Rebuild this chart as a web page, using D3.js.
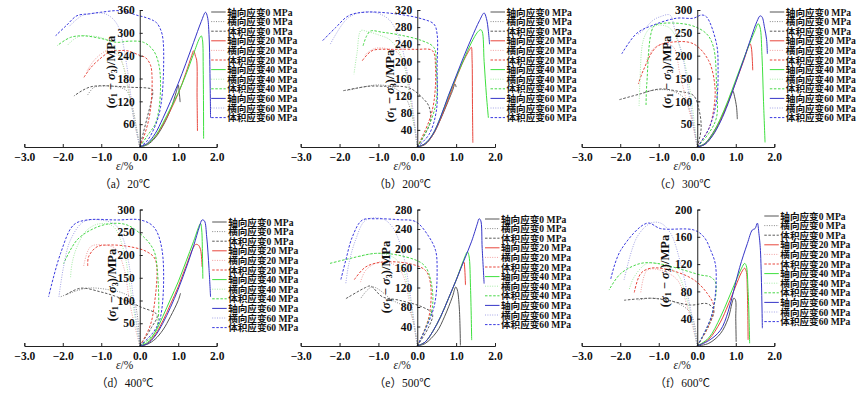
<!DOCTYPE html>
<html><head><meta charset="utf-8">
<script src="https://cdn.jsdelivr.net/npm/d3@7"></script>
<style>
body{margin:0;background:#fff;}
svg{display:block;}
text{font-family:"Liberation Serif","Times New Roman","Noto Sans CJK SC",serif;}
</style></head>
<body>
<svg id="chart" width="857" height="396"></svg>
<script>
// ---------- data ----------
const pressures = ["0", "20", "40", "60"];
const seriesNames = ["轴向应变", "横向应变", "体积应变"];
const captions = ["（a）20℃", "（b）200℃", "（c）300℃", "（d）400℃", "（e）500℃", "（f）600℃"];
const yMaxes = [360, 320, 300, 300, 280, 200];
const yTickSets = [
  [60, 120, 180, 240, 300, 360],
  [40, 80, 120, 160, 200, 240, 280, 320],
  [50, 100, 150, 200, 250, 300],
  [50, 100, 150, 200, 250, 300],
  [40, 80, 120, 160, 200, 240, 280],
  [40, 80, 120, 160, 200]
];
const xTicks = [-3, -2, -1, 0, 1, 2];

// 20 ℃
const axial20 = [
  [[0,0],[0.2,6],[0.4,24],[0.6,55],[0.8,98],[0.95,145],[1.0,163],[1.03,140],[1.05,118]],
  [[0,0],[0.2,8],[0.4,27],[0.6,58],[0.8,97],[1.0,140],[1.2,195],[1.35,240],[1.4,253],[1.45,238],[1.48,228],[1.49,130],[1.5,42]],
  [[0,0],[0.2,8],[0.4,28],[0.6,62],[0.8,102],[1.0,142],[1.2,190],[1.4,245],[1.55,285],[1.6,292],[1.63,282],[1.65,200],[1.66,22]],
  [[0,0],[0.2,10],[0.4,35],[0.6,75],[0.8,120],[1.0,167],[1.2,220],[1.4,275],[1.6,330],[1.71,354],[1.76,342],[1.8,295],[1.83,160],[1.84,77]]
];
const lateral20 = [
  [[0,0],[-0.1,60],[-0.2,110],[-0.33,147],[-0.5,156],[-0.76,160],[-1.0,160],[-1.2,156],[-1.37,134]],
  [[0,0],[-0.1,45],[-0.16,77],[-0.33,174],[-0.45,220],[-0.59,244],[-0.85,253],[-1.0,245],[-1.2,226],[-1.37,200]],
  [[0,0],[-0.1,50],[-0.2,100],[-0.33,165],[-0.45,220],[-0.59,253],[-0.8,278],[-1.02,288],[-1.3,292],[-1.54,292],[-1.75,280],[-1.89,266]],
  [[0,0],[-0.08,40],[-0.16,77],[-0.25,150],[-0.33,209],[-0.45,280],[-0.55,315],[-0.68,335],[-0.85,348],[-1.0,352],[-1.3,350],[-1.5,345],[-1.7,330],[-1.85,315]]
];
const volumetric20 = [
  [[0,0],[0.1,40],[0.2,80],[0.3,120],[0.34,145],[0.32,152],[0.19,155],[-0.24,157],[-0.7,160],[-1.02,161],[-1.28,158],[-1.5,148],[-1.71,134]],
  [[0,0],[0.15,40],[0.25,80],[0.3,120],[0.32,183],[0.28,215],[0.15,235],[0.02,240],[-0.33,253],[-0.55,253],[-0.76,251],[-1.1,226],[-1.3,205],[-1.45,183]],
  [[0,0],[0.2,30],[0.4,60],[0.5,100],[0.54,165],[0.5,215],[0.36,253],[0.1,275],[-0.3,278],[-0.59,275],[-1.0,285],[-1.45,292],[-1.8,288],[-2.15,266]],
  [[0,0],[0.19,16],[0.4,55],[0.54,104],[0.62,209],[0.58,297],[0.45,325],[0.36,332],[0.1,342],[-0.03,345],[-0.5,358],[-1.02,354],[-1.3,350],[-1.63,345],[-1.9,320],[-2.19,292]]
];
// 200 ℃
const axial200 = [
  [[0,0],[0.2,6],[0.4,28],[0.6,65],[0.8,108],[0.9,130],[0.97,147],[1.0,140]],
  [[0,0],[0.2,7],[0.4,28],[0.6,66],[0.8,112],[1.0,160],[1.2,203],[1.35,228],[1.39,233],[1.41,205],[1.42,100],[1.43,10]],
  [[0,0],[0.2,8],[0.4,30],[0.6,70],[0.8,118],[1.0,163],[1.2,205],[1.4,245],[1.55,268],[1.63,274],[1.67,270],[1.72,200],[1.78,120],[1.83,68]],
  [[0,0],[0.2,8],[0.4,30],[0.6,70],[0.8,120],[1.0,166],[1.2,212],[1.4,255],[1.6,295],[1.72,313],[1.78,300],[1.83,270],[1.86,240]]
];
const lateral200 = [
  [[0,0],[-0.1,60],[-0.3,115],[-0.6,138],[-1.0,145],[-1.4,140],[-1.8,132]],
  [[0,0],[-0.15,100],[-0.3,180],[-0.5,220],[-0.8,230],[-1.1,230],[-1.35,215]],
  [[0,0],[-0.2,120],[-0.4,210],[-0.7,250],[-1.0,262],[-1.3,270],[-1.45,272],[-1.55,220],[-1.63,170]],
  [[0,0],[-0.1,80],[-0.25,170],[-0.45,250],[-0.7,295],[-1.0,312],[-1.4,315],[-1.8,300],[-2.24,240]]
];
const volumetric200 = [
  [[0,0],[0.2,30],[0.34,60],[0.3,95],[0.13,115],[-0.21,138],[-0.9,142],[-1.24,142],[-1.59,137],[-1.93,131]],
  [[0,0],[0.3,60],[0.43,107],[0.47,185],[0.39,225],[-0.04,228],[-0.64,228],[-1.16,225],[-1.42,201]],
  [[0,0],[0.3,50],[0.49,107],[0.49,185],[0.43,232],[0.13,248],[-0.47,262],[-0.9,268],[-1.2,271],[-1.3,260],[-1.4,235]],
  [[0,0],[0.3,29],[0.49,84],[0.51,185],[0.51,264],[0.43,287],[0.13,299],[-0.56,311],[-1.33,315],[-1.76,307],[-2.1,279],[-2.44,248]]
];
// 300 ℃
const axial300 = [
  [[0,0],[0.2,8],[0.4,30],[0.6,60],[0.8,98],[0.92,123],[0.97,110],[1.02,87],[1.04,61]],
  [[0,0],[0.2,6],[0.4,26],[0.6,58],[0.8,98],[1.0,142],[1.2,188],[1.37,226],[1.4,220],[1.43,190],[1.44,168]],
  [[0,0],[0.2,7],[0.4,28],[0.6,62],[0.8,102],[1.0,147],[1.2,192],[1.4,235],[1.5,255],[1.58,270],[1.63,262],[1.68,200],[1.72,100],[1.76,10]],
  [[0,0],[0.2,6],[0.4,25],[0.6,55],[0.8,95],[1.0,142],[1.2,190],[1.4,240],[1.55,275],[1.63,287],[1.68,285],[1.75,260],[1.8,235],[1.82,204]]
];
const lateral300 = [
  [[0,0],[-0.19,79],[-0.36,109],[-0.71,124],[-1.06,125],[-1.4,120]],
  [[0,0],[-0.15,60],[-0.28,101],[-0.45,160],[-0.62,219],[-0.88,226],[-1.14,215],[-1.31,190]],
  [[0,0],[-0.23,145],[-0.45,219],[-0.71,260],[-0.97,267],[-1.23,260],[-1.4,234],[-1.49,138],[-1.51,90]],
  [[0,0],[-0.19,101],[-0.36,190],[-0.58,256],[-0.71,289],[-0.97,285],[-1.14,278],[-1.4,256],[-1.57,245]]
];
const volumetric300 = [
  [[0,0],[0.1,40],[0.05,80],[-0.1,113],[-0.5,122],[-0.97,127],[-1.49,116],[-2.05,103]],
  [[0,0],[0.3,40],[0.42,79],[0.46,131],[0.29,190],[-0.1,226],[-0.62,230],[-1.06,219],[-1.4,168],[-1.53,138]],
  [[0,0],[0.3,30],[0.5,65],[0.5,138],[0.42,219],[0.24,248],[-0.19,267],[-0.97,270],[-1.14,263],[-1.31,138],[-1.33,90]],
  [[0,0],[0.3,40],[0.5,101],[0.54,175],[0.5,226],[0.24,285],[0.11,289],[-0.1,282],[-0.54,282],[-1.14,267],[-1.57,249],[-1.96,204]]
];
// 400 ℃
const axial400 = [
  [[0,0],[0.2,4],[0.4,15],[0.6,35],[0.8,65],[1.0,100],[1.06,116]],
  [[0,0],[0.2,6],[0.4,25],[0.6,55],[0.8,92],[1.0,130],[1.2,175],[1.45,223],[1.52,222],[1.58,212],[1.62,174]],
  [[0,0],[0.2,8],[0.4,30],[0.6,65],[0.8,103],[1.0,141],[1.2,185],[1.4,230],[1.58,269],[1.61,255],[1.63,200],[1.64,148]],
  [[0,0],[0.2,5],[0.4,22],[0.6,50],[0.8,85],[1.0,125],[1.2,170],[1.4,220],[1.55,262],[1.62,277],[1.68,275],[1.74,240],[1.8,170],[1.84,108]]
];
const lateral400 = [
  [[0,0],[-0.16,101],[-0.4,115],[-0.76,123],[-1.37,127],[-2.06,108]],
  [[0,0],[-0.24,86],[-0.42,174],[-0.63,214],[-0.94,222],[-1.28,218],[-1.46,174]],
  [[0,0],[-0.24,123],[-0.42,211],[-0.68,262],[-1.02,269],[-1.37,255],[-1.63,218],[-1.76,181],[-1.8,148]],
  [[0,0],[-0.16,101],[-0.28,180],[-0.42,233],[-0.63,266],[-1.02,277],[-1.46,273],[-1.8,233],[-1.98,174],[-2.1,108]]
];
const volumetric400 = [
  [[0,0],[0.3,40],[0.45,68],[0.02,86],[-0.59,108],[-1.02,119],[-1.54,127],[-1.93,112]],
  [[0,0],[0.25,40],[0.36,79],[0.41,189],[0.19,207],[-0.24,218],[-0.76,222],[-1.11,218],[-1.33,196],[-1.35,174]],
  [[0,0],[0.3,20],[0.45,42],[0.45,174],[0.36,211],[0.1,240],[-0.33,266],[-0.76,269],[-1.2,258],[-1.63,233],[-1.98,181]],
  [[0,0],[0.35,30],[0.54,64],[0.58,211],[0.36,262],[0.02,277],[-0.59,277],[-1.37,277],[-1.72,266],[-2.06,203],[-2.37,108]]
];
// 500 ℃
const axial500 = [
  [[0,0],[0.2,5],[0.5,29],[0.7,60],[0.9,100],[0.99,121],[1.03,115],[1.08,80],[1.11,1]],
  [[0,0],[0.2,8],[0.4,30],[0.6,60],[0.8,97],[1.0,135],[1.2,172],[1.22,160],[1.24,125]],
  [[0,0],[0.2,8],[0.4,30],[0.6,60],[0.8,97],[1.0,135],[1.2,178],[1.29,193],[1.33,185],[1.37,120],[1.4,12]],
  [[0,0],[0.2,8],[0.4,30],[0.6,60],[0.8,97],[1.0,135],[1.2,175],[1.4,215],[1.55,252],[1.59,261],[1.63,258],[1.67,200],[1.72,128]]
];
const lateral500 = [
  [[0,0],[-0.21,73],[-0.64,94],[-1.16,121],[-1.46,97]],
  [[0,0],[-0.21,94],[-0.39,149],[-0.64,169],[-0.99,172],[-1.33,155],[-1.46,131]],
  [[0,0],[-0.21,107],[-0.39,162],[-0.64,183],[-1.07,190],[-1.5,183]],
  [[0,0],[-0.21,121],[-0.39,196],[-0.64,244],[-0.9,261],[-1.33,258],[-1.59,217],[-1.76,169],[-1.84,128]]
];
const volumetric500 = [
  [[0,0],[0.3,40],[0.39,66],[0.13,80],[-0.47,94],[-0.9,101],[-1.2,123],[-1.33,120],[-1.84,97]],
  [[0,0],[0.3,60],[0.34,128],[0.21,155],[-0.21,169],[-0.9,172],[-1.33,162],[-1.63,135]],
  [[0,0],[0.39,80],[0.3,148],[0.13,169],[-0.47,186],[-1.07,190],[-1.76,179],[-2.27,169]],
  [[0,0],[0.43,80],[0.51,162],[0.47,196],[0.3,224],[-0.04,255],[-0.47,259],[-1.07,261],[-1.42,258],[-1.67,224],[-1.84,176],[-1.97,135]]
];
// 600 ℃
const axial600 = [
  [[0,0],[0.3,4],[0.6,18],[0.8,40],[0.95,70],[0.99,68],[1.0,40],[1.01,6]],
  [[0,0],[0.3,10],[0.6,35],[0.8,60],[1.0,88],[1.15,108],[1.23,114],[1.27,110],[1.3,80],[1.32,9]],
  [[0,0],[0.3,12],[0.6,42],[0.8,68],[1.0,95],[1.15,114],[1.23,121],[1.27,118],[1.32,80],[1.36,4]],
  [[0,0],[0.3,8],[0.6,23],[0.8,50],[0.95,82],[1.1,115],[1.3,150],[1.43,170],[1.5,172],[1.56,180],[1.6,165],[1.64,140],[1.69,26]]
];
const lateral600 = [
  [[0,0],[-0.17,48],[-0.61,65],[-1.21,70],[-1.56,67]],
  [[0,0],[-0.26,58],[-0.52,97],[-0.95,111],[-1.3,111],[-1.47,77]],
  [[0,0],[-0.26,67],[-0.52,106],[-0.87,118],[-1.3,121],[-1.64,101],[-1.77,82]],
  [[0,0],[-0.22,67],[-0.45,125],[-0.69,165],[-0.95,180],[-1.21,180],[-1.56,160],[-1.9,97]]
];
const volumetric600 = [
  [[0,0],[0.3,30],[0.43,53],[0.26,62],[-0.17,60],[-0.78,67],[-1.21,70],[-1.9,67]],
  [[0,0],[0.3,30],[0.43,58],[0.26,77],[-0.09,97],[-0.69,111],[-1.21,114],[-1.47,106],[-1.64,77]],
  [[0,0],[0.35,40],[0.48,92],[0.35,101],[0.09,104],[-0.52,114],[-1.04,121],[-1.47,121],[-1.99,106],[-2.29,82]],
  [[0,0],[0.39,48],[0.48,116],[0.35,140],[0.17,160],[-0.09,170],[-0.95,172],[-1.3,180],[-1.99,140],[-2.25,97]]
];

const axialSets = [axial20, axial200, axial300, axial400, axial500, axial600];
const lateralSets = [lateral20, lateral200, lateral300, lateral400, lateral500, lateral600];
const volumetricSets = [volumetric20, volumetric200, volumetric300, volumetric400, volumetric500, volumetric600];

// ---------- styling / layout ----------
const FONT = '"Liberation Serif","Times New Roman","Noto Sans CJK SC",serif';
const styles = [
  [{c:"#555555",d:null},{c:"#e8463c",d:null},{c:"#3ee03e",d:null},{c:"#3535c8",d:null}],
  [{c:"#8a8a8a",d:"1,1.4"},{c:"#f2a0a0",d:"1,1.4"},{c:"#a6eca6",d:"1,1.4"},{c:"#a4a4e6",d:"1,1.4"}],
  [{c:"#5a5a5a",d:"2.5,1.6"},{c:"#e8463c",d:"2.5,1.6"},{c:"#48d848",d:"2.5,1.6"},{c:"#3a3ae0",d:"2.5,1.6"}]
];
const colX = [[24.3, 216.7], [300.7, 495], [581.7, 774.3]];
const rowY = [[147, 10], [346, 209.5]];
const legendDx = [-5.5, -4.5, -4.5, -4.5, -10, -10];
const legendY0 = [12, 12, 12, 222, 219, 216];
const yLabelDx = [-29, -27, -30, -28, -31, -32];
const yLabelCy = [72, 86, 72, 86, 78, 72];

const svg = d3.select("#chart");
const fmt = d => (d < 0 ? "\u2212" : "") + Math.abs(d).toFixed(1);

for (let p = 0; p < 6; p++) {
  const col = p % 3, row = Math.floor(p / 3);
  const x = d3.scaleLinear().domain([-3, 2]).range(colX[col]);
  const y = d3.scaleLinear().domain([0, yMaxes[p]]).range(rowY[row]);
  const g = svg.append("g");
  const line = d3.line().x(d => x(d[0])).y(d => y(d[1])).curve(d3.curveCatmullRom.alpha(0.5));

  const sets = [axialSets[p], lateralSets[p], volumetricSets[p]];
  for (let k = 0; k < 4; k++) {
    for (const t of [1, 2, 0]) {
      const st = styles[t][k];
      g.append("path").datum(sets[t][k])
        .attr("d", line).attr("fill", "none")
        .attr("stroke", st.c).attr("stroke-width", 1)
        .attr("stroke-dasharray", st.d);
    }
  }

  const xa = g.append("g").attr("transform", `translate(0,${rowY[row][0]})`)
    .call(d3.axisBottom(x).tickValues(xTicks).tickFormat(fmt).tickSize(-3).tickPadding(6));
  xa.attr("font-family", FONT);
  xa.select(".domain").attr("stroke", "#222");
  xa.selectAll(".tick line").attr("stroke", "#222");
  xa.selectAll("text").attr("font-size", 11.5).attr("fill", "#111").attr("font-weight", "bold");

  const ya = g.append("g").attr("transform", `translate(${x(0)},0)`)
    .call(d3.axisLeft(y).tickValues(yTickSets[p]).tickSize(-3).tickPadding(5));
  ya.attr("font-family", FONT);
  ya.select(".domain").attr("stroke", "#222");
  ya.selectAll(".tick line").attr("stroke", "#222");
  ya.selectAll("text").attr("font-size", 11.5).attr("fill", "#111").attr("font-weight", "bold");

  const yl = g.append("text")
    .attr("transform", `translate(${x(0) + yLabelDx[p]},${rowY[row][0] - 147 + yLabelCy[p]}) rotate(-90)`)
    .attr("text-anchor", "middle").attr("dominant-baseline", "central")
    .attr("font-size", 12.5).attr("fill", "#111").attr("font-weight", "bold");
  yl.append("tspan").text("(");
  yl.append("tspan").attr("font-style", "italic").text("σ");
  yl.append("tspan").attr("font-size", 8).attr("dy", 3).text("1");
  yl.append("tspan").attr("dy", -3).text(" \u2212 ");
  yl.append("tspan").attr("font-style", "italic").text("σ");
  yl.append("tspan").attr("font-size", 8).attr("dy", 3).text("3");
  yl.append("tspan").attr("dy", -3).text(")/MPa");

  const xl = g.append("text").attr("x", x(0) - 15).attr("y", rowY[row][0] + 23)
    .attr("text-anchor", "middle").attr("font-size", 11.5).attr("fill", "#111");
  xl.append("tspan").attr("font-style", "italic").text("ε");
  xl.append("tspan").text("/%");

  g.append("text").attr("x", x(0) - 15).attr("y", rowY[row][0] + 41)
    .attr("text-anchor", "middle").attr("font-size", 11.5).attr("fill", "#111")
    .text(captions[p]);

  const lx = x(2) + legendDx[p];
  const lg = g.append("g");
  let r = 0;
  for (let k = 0; k < 4; k++) {
    for (let t = 0; t < 3; t++) {
      const st = styles[t][k];
      const ry = legendY0[p] + r * 9.6;
      lg.append("line").attr("x1", lx).attr("x2", lx + 14.5).attr("y1", ry).attr("y2", ry)
        .attr("stroke", st.c).attr("stroke-width", 1).attr("stroke-dasharray", st.d);
      lg.append("text").attr("x", lx + 16).attr("y", ry + 3.6)
        .attr("font-size", 9.6).attr("fill", "#111").attr("font-weight", "bold")
        .text(seriesNames[t] + pressures[k] + " MPa");
      r++;
    }
  }
}
</script>
</body></html>
